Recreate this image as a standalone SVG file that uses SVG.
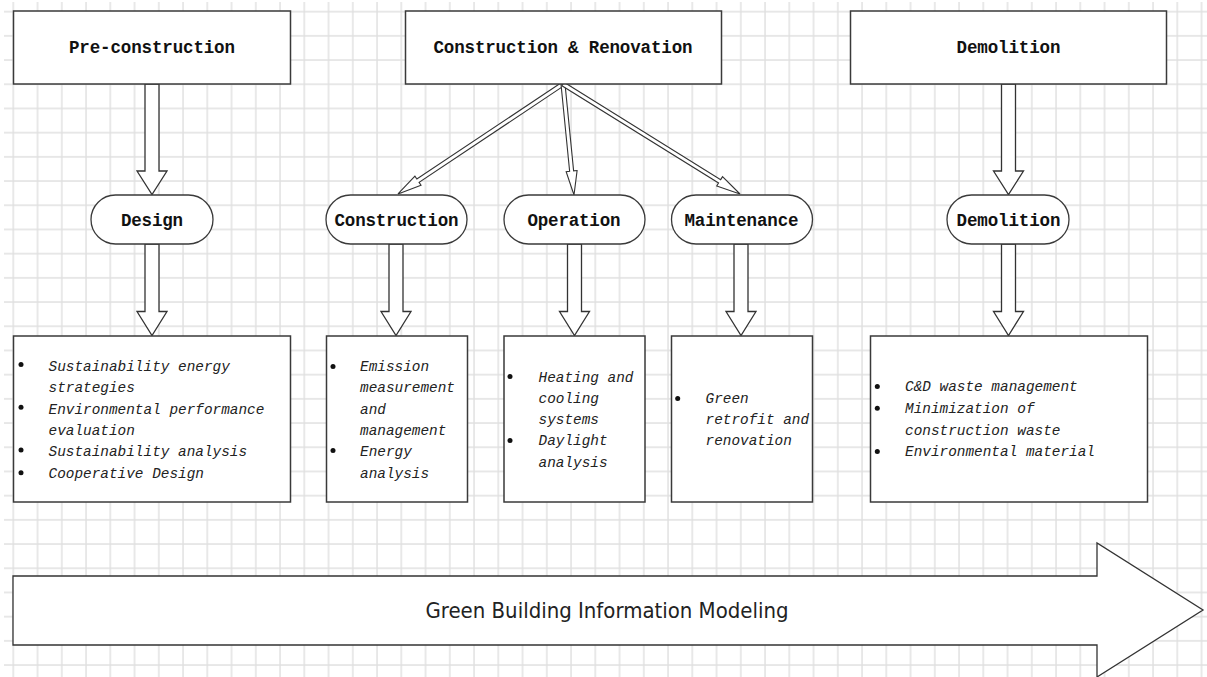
<svg xmlns="http://www.w3.org/2000/svg" width="1207" height="677" viewBox="0 0 1207 677">
  <defs>
    <pattern id="grid" x="12.3" y="10.7" width="24.25" height="24.2" patternUnits="userSpaceOnUse">
      <path d="M1 0V24.2M0 1H24.25" stroke="#e0e0e0" stroke-width="1.4" fill="none"/>
    </pattern>
    <style>
      .box { fill: #fff; stroke: #3a3a3a; stroke-width: 1.5; }
      .pill { fill: #fff; stroke: #3a3a3a; stroke-width: 1.3; }
      .fat { fill: #fff; stroke: #333; stroke-width: 1.3; stroke-linejoin: miter; }
      .thin { fill: #fff; stroke: #333; stroke-width: 1.1; }
      .title { font-family: "Liberation Mono", "DejaVu Sans Mono", monospace; font-weight: bold; font-size: 17.5px; fill: #111; text-anchor: middle; }
      .item { font-family: "Liberation Mono", "DejaVu Sans Mono", monospace; font-style: italic; font-size: 14.4px; fill: #222; }
      .dot { fill: #111; }
      .band { font-family: "Liberation Sans Narrow", "DejaVu Sans Condensed", sans-serif; font-size: 22px; fill: #222; text-anchor: middle; }
    </style>
  </defs>

  <!-- background and grid -->
  <rect width="1207" height="677" fill="#fff"/>
  <rect x="4" y="2" width="1203" height="675" fill="url(#grid)"/>

  <!-- connectors -->
  <g id="connectors">
    <polygon class="fat" points="145,84 159,84 159,171 167,171 152,194.5 137,171 145,171"/>
    <polygon class="fat" points="1001.5,84 1015.5,84 1015.5,171 1023.5,171 1008.5,194.5 993.5,171 1001.5,171"/>
    <path class="thin" transform="translate(563,84) rotate(146.31)" d="M0,-2H174.3V-5.5L198.3,0L174.3,5.5V2H0Z"/>
    <path class="thin" transform="translate(563,84) rotate(84.34)" d="M0,-2H87.5V-5.5L111.5,0L87.5,5.5V2H0Z"/>
    <path class="thin" transform="translate(563,84) rotate(31.86)" d="M0,-2H184.4V-5.5L208.4,0L184.4,5.5V2H0Z"/>
    <polygon class="fat" points="145,244 159,244 159,311.5 167,311.5 152,335.5 137,311.5 145,311.5"/>
    <polygon class="fat" points="389,244 403,244 403,311.5 411,311.5 396,335.5 381,311.5 389,311.5"/>
    <polygon class="fat" points="567.5,244 581.5,244 581.5,311.5 589.5,311.5 574.5,335.5 559.5,311.5 567.5,311.5"/>
    <polygon class="fat" points="734,244 748,244 748,311.5 756,311.5 741,335.5 726,311.5 734,311.5"/>
    <polygon class="fat" points="1001.5,244 1015.5,244 1015.5,311.5 1023.5,311.5 1008.5,335.5 993.5,311.5 1001.5,311.5"/>
  </g>

  <!-- phase headers -->
  <g id="pre-construction">
    <rect class="box" x="13.5" y="11" width="277" height="73"/>
    <text class="title" x="152" y="53" textLength="166">Pre-construction</text>
  </g>
  <g id="construction-renovation">
    <rect class="box" x="405.5" y="11" width="316" height="73"/>
    <text class="title" x="563" y="53" textLength="259">Construction &amp; Renovation</text>
  </g>
  <g id="demolition-phase">
    <rect class="box" x="850.5" y="11" width="316" height="73"/>
    <text class="title" x="1008.5" y="53" textLength="104">Demolition</text>
  </g>

  <!-- stages -->
  <g id="design">
    <rect class="pill" x="91" y="195" width="122" height="49" rx="24.5"/>
    <text class="title" x="152" y="226" textLength="62">Design</text>
  </g>
  <g id="construction">
    <rect class="pill" x="326" y="195" width="141" height="49" rx="24.5"/>
    <text class="title" x="396.5" y="226" textLength="124">Construction</text>
  </g>
  <g id="operation">
    <rect class="pill" x="504" y="195" width="141" height="49" rx="24.5"/>
    <text class="title" x="574" y="226" textLength="93">Operation</text>
  </g>
  <g id="maintenance">
    <rect class="pill" x="671.5" y="195" width="141" height="49" rx="24.5"/>
    <text class="title" x="741.5" y="226" textLength="114">Maintenance</text>
  </g>
  <g id="demolition">
    <rect class="pill" x="947" y="195" width="122" height="49" rx="24.5"/>
    <text class="title" x="1008.5" y="226" textLength="104">Demolition</text>
  </g>

  <!-- stage topics -->
  <g id="design-topics">
    <rect class="box" x="13.5" y="336" width="277" height="166"/>
    <circle class="dot" cx="21" cy="364.5" r="2.5"/>
    <circle class="dot" cx="21" cy="407.3" r="2.5"/>
    <circle class="dot" cx="21" cy="450.1" r="2.5"/>
    <circle class="dot" cx="21" cy="472.7" r="2.5"/>
    <text class="item" x="48.5" y="370.7">Sustainability energy</text>
    <text class="item" x="48.5" y="392.1">strategies</text>
    <text class="item" x="48.5" y="413.5">Environmental performance</text>
    <text class="item" x="48.5" y="434.9">evaluation</text>
    <text class="item" x="48.5" y="456.3">Sustainability analysis</text>
    <text class="item" x="48.5" y="477.7">Cooperative Design</text>
  </g>
  <g id="construction-topics">
    <rect class="box" x="326.5" y="336" width="141" height="166"/>
    <circle class="dot" cx="333" cy="366.5" r="2.5"/>
    <circle class="dot" cx="333" cy="450.5" r="2.5"/>
    <text class="item" x="360" y="370.7">Emission</text>
    <text class="item" x="360" y="392.1">measurement</text>
    <text class="item" x="360" y="413.5">and</text>
    <text class="item" x="360" y="434.9">management</text>
    <text class="item" x="360" y="456.3">Energy</text>
    <text class="item" x="360" y="477.7">analysis</text>
  </g>
  <g id="operation-topics">
    <rect class="box" x="504" y="336" width="141" height="166"/>
    <circle class="dot" cx="510" cy="376.5" r="2.5"/>
    <circle class="dot" cx="510" cy="440.5" r="2.5"/>
    <text class="item" x="538.5" y="381.5">Heating and</text>
    <text class="item" x="538.5" y="402.8">cooling</text>
    <text class="item" x="538.5" y="424.1">systems</text>
    <text class="item" x="538.5" y="445.4">Daylight</text>
    <text class="item" x="538.5" y="466.7">analysis</text>
  </g>
  <g id="maintenance-topics">
    <rect class="box" x="671.5" y="336" width="141" height="166"/>
    <circle class="dot" cx="677.7" cy="398.5" r="2.5"/>
    <text class="item" x="705.5" y="403.3">Green</text>
    <text class="item" x="705.5" y="424.2">retrofit and</text>
    <text class="item" x="705.5" y="445.1">renovation</text>
  </g>
  <g id="demolition-topics">
    <rect class="box" x="870.5" y="336" width="277" height="166"/>
    <circle class="dot" cx="877.3" cy="386.5" r="2.5"/>
    <circle class="dot" cx="877.3" cy="408.2" r="2.5"/>
    <circle class="dot" cx="877.3" cy="451.6" r="2.5"/>
    <text class="item" x="905" y="391.2">C&amp;D waste management</text>
    <text class="item" x="905" y="412.9">Minimization of</text>
    <text class="item" x="905" y="434.6">construction waste</text>
    <text class="item" x="905" y="456.3">Environmental material</text>
  </g>

  <!-- lifecycle band -->
  <g id="green-bim">
    <polygon class="fat" points="13,576 1097,576 1097,543 1203,610 1097,677 1097,645 13,645"/>
    <text class="band" x="607" y="617.5" textLength="363" lengthAdjust="spacingAndGlyphs">Green Building Information Modeling</text>
  </g>
</svg>
